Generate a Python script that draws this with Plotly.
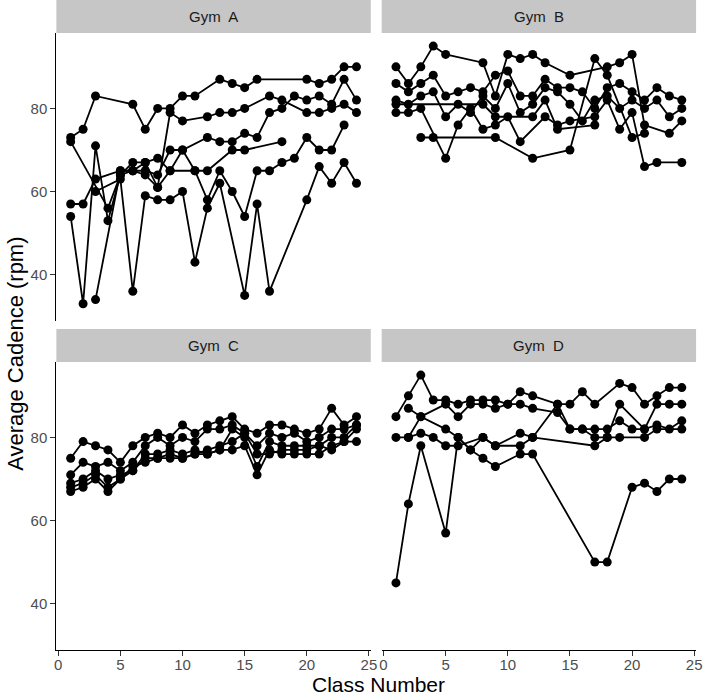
import plotly.graph_objects as go

# ---------------- data ----------------
gym_a = [
    ([1,2,3,6,7,8,9,10,11,13,14,15,16,20,21,22,23,24], [73,75,83,81,75,80,80,83,83,87,86,85,87,87,86,87,90,90]),
    ([1,4,5,6,7,8,9,10,11,12,14,15,18], [72,56,64,67,67,68,65,70,65,65,70,70,72]),
    ([1,2,3,5,6,7,8,9,10,12,13,14,15,17,18,20,21,22,23,24], [57,57,63,65,65,64,61,79,77,78,79,79,80,83,82,79,79,80,81,79]),
    ([1,2,3,4,5,6,7,8,9,10,12,13,14,15,16,17,18,19,20,21,22,23,24], [54,33,71,53,64,65,65,64,70,70,73,72,72,74,73,79,80,83,82,83,81,87,82]),
    ([3,5,6,7,8,9,10,11,12,13,15,16,17,20,21,22,23,24], [60,63,36,59,58,58,60,43,56,62,35,57,36,58,66,62,67,62]),
    ([3,5,6,7,8,9,11,12,13,14,15,16,17,18,19,20,21,22,23], [34,65,65,67,61,65,65,58,65,60,54,65,65,67,68,73,70,70,76]),
]
gym_b = [
    ([1,2,3,4,5,8,9,10,11,12,13,15,18,19,20,21,23,24], [90,86,90,95,93,91,83,93,92,93,91,88,90,91,93,76,74,77]),
    ([1,2,3,4,5,6,7,8,9,10,11,12,13,14,15,16,17,18,19,20,21,22,23,24], [86,84,86,88,83,84,85,84,88,89,83,83,87,85,85,84,80,85,86,84,82,85,83,82]),
    ([1,2,3,4,5,6,7,8,9,10,11,12,13,14,15,16,17,18,19,20,21,22,23,24], [82,81,83,84,78,81,79,83,80,86,79,81,85,84,81,77,82,83,80,82,80,82,78,80]),
    ([1,2,3,5,6,7,8,9,10,11,13,14,15,17,18,19,20,21,22,24], [79,79,80,68,76,80,75,76,78,72,78,76,77,78,82,75,79,66,67,67]),
    ([3,4,9,12,15,17,18,20,21], [73,73,73,68,70,92,88,73,74]),
    ([1,8,9,12,13,14,17], [81,81,78,78,82,75,76]),
]
gym_c = [
    (list(range(1,25)), [75,79,78,77,74,78,80,81,80,83,81,83,84,85,82,81,83,83,82,81,82,87,83,85]),
    (list(range(1,25)), [71,74,73,74,72,74,78,80,78,80,79,82,82,83,81,78,81,80,81,79,80,82,82,83]),
    (list(range(1,25)), [69,70,72,70,71,72,76,76,77,76,77,76,77,82,80,73,79,78,78,78,78,80,80,83]),
    (list(range(1,25)), [68,69,71,68,70,72,75,75,76,75,76,76,77,77,78,71,77,76,76,76,76,78,79,79]),
    (list(range(1,25)), [67,68,70,67,70,73,74,75,75,75,76,77,78,79,81,76,76,77,77,77,78,77,79,82]),
]
gym_d = [
    ([1,2,3,4,5,6,7,8,9,10,11,12,14,15,16,17,19,20,21,22,23,24], [85,90,95,89,89,88,89,89,89,88,91,90,88,88,91,88,93,92,88,90,92,92]),
    ([2,3,5,6,7,8,9,10,11,12,14,15,16,17,18,19,21,22,23,24], [87,85,88,85,88,88,87,88,88,87,86,82,82,80,80,88,82,88,88,88]),
    ([2,3,5,6,7,8,9,11,12,14,15,16,17,18,19,20,21,22,23,24], [80,85,82,80,77,80,78,81,80,88,82,82,82,82,84,82,82,83,82,84]),
    ([1,2,3,4,5,6,8,9,11,12,17,18,19,21,22,24], [80,80,81,80,78,78,80,78,78,80,78,80,80,80,82,82]),
    ([1,2,3,5,6,7,8,9,11,12,17,18,20,21,22,23,24], [45,64,78,57,80,77,75,73,76,76,50,50,68,69,67,70,70]),
]
panel_names = ["Gym\u00a0 A", "Gym\u00a0 B", "Gym\u00a0 C", "Gym\u00a0 D"]
x_ticks = [0, 5, 10, 15, 20, 25]
y_ticks = [40, 60, 80]

# ---------------- figure ----------------
W, H = 709, 698
def px(x): return x / W
def py(y): return 1 - y / H

left = (55, 373)
right = (384, 702)
top = (33, 321)
bottom = (362, 650)
doms = [(left, top), (right, top), (left, bottom), (right, bottom)]

fig = go.Figure()
for i, data in enumerate([gym_a, gym_b, gym_c, gym_d]):
    sfx = "" if i == 0 else str(i + 1)
    for xs, ys in data:
        fig.add_trace(go.Scatter(
            x=xs, y=ys, mode="lines+markers",
            line=dict(color="black", width=1.8),
            marker=dict(color="black", size=9),
            xaxis="x" + sfx, yaxis="y" + sfx, cliponaxis=False,
            showlegend=False, hoverinfo="skip"))

font = "Liberation Sans, Arial, Helvetica, sans-serif"
layout = dict(width=W, height=H, margin=dict(l=0, r=0, t=0, b=0),
              paper_bgcolor="white", plot_bgcolor="white", showlegend=False,
              font=dict(family=font))
shapes, annos = [], []
for i, ((xl, xr), (yt, yb)) in enumerate(doms):
    sfx = "" if i == 0 else str(i + 1)
    show_x = i >= 2
    show_y = i in (0, 2)
    layout["xaxis" + sfx] = dict(
        domain=[px(xl), px(xr)], range=[-0.15, 25.15], anchor="y" + sfx,
        tickvals=x_ticks, showticklabels=show_x, ticks="outside" if show_x else "",
        ticklen=5, tickwidth=1.1, tickcolor="#333333", showline=show_x, linecolor="black",
        linewidth=1.2, showgrid=False, zeroline=False, ticklabelstandoff=-4,
        tickfont=dict(size=15, color="#4d4d4d", family=font))
    layout["yaxis" + sfx] = dict(
        domain=[py(yb), py(yt)], range=[28.85, 98.15], anchor="x" + sfx,
        tickvals=y_ticks, showticklabels=show_y, ticks="outside" if show_y else "",
        ticklen=5, tickwidth=1.1, tickcolor="#333333", showline=show_y, linecolor="black",
        linewidth=1.2, showgrid=False, zeroline=False,
        tickfont=dict(size=15, color="#4d4d4d", family=font))
    # strip
    shapes.append(dict(type="rect", xref="paper", yref="paper",
                       x0=px(xl), x1=px(xr), y0=py(yt), y1=py(yt - 33),
                       fillcolor="#c6c6c6", line=dict(width=0), layer="below"))
    annos.append(dict(text=panel_names[i], xref="paper", yref="paper",
                      x=px((xl + xr) / 2), y=py(yt - 16.5), showarrow=False,
                      font=dict(size=15, color="#1a1a1a", family=font),
                      xanchor="center", yanchor="middle"))

annos.append(dict(text="Class Number", xref="paper", yref="paper",
                  x=px(381), y=0, showarrow=False,
                  font=dict(size=21, color="black", family=font),
                  xanchor="center", yanchor="bottom"))
annos.append(dict(text="Average Cadence (rpm)", xref="paper", yref="paper",
                  x=px(13), y=py(354), showarrow=False, textangle=-90,
                  font=dict(size=22, color="black", family=font),
                  xanchor="center", yanchor="middle"))
layout["shapes"] = shapes
layout["annotations"] = annos
fig.update_layout(**layout)
fig.write_html("out.html", config={"displayModeBar": False},
               post_script="document.body.style.margin='0';document.body.style.overflow='hidden';")
